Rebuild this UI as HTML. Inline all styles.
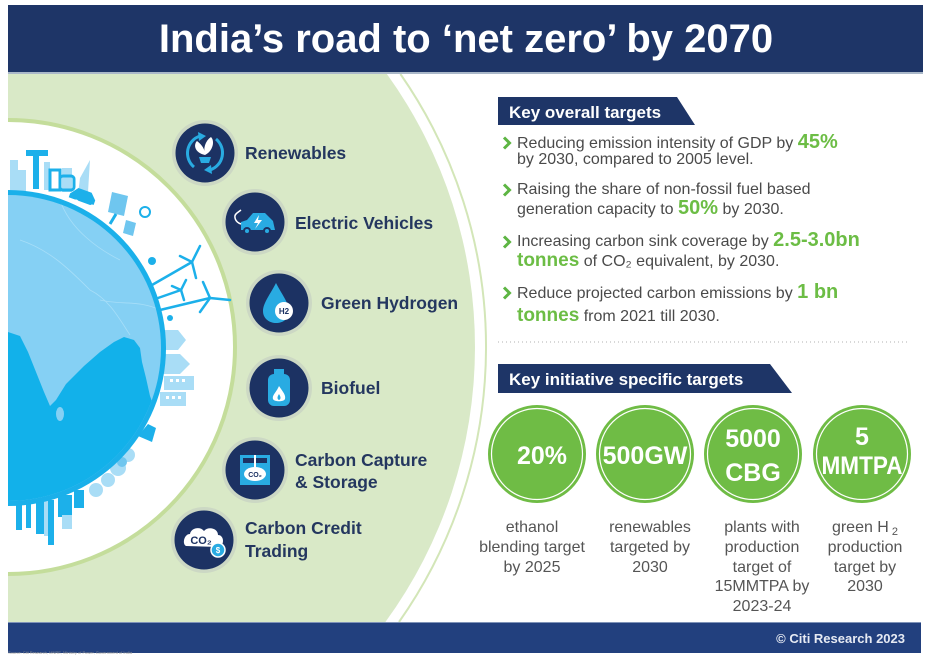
<!DOCTYPE html>
<html><head><meta charset="utf-8"><style>
html,body{margin:0;padding:0;background:#fff;width:929px;height:657px;overflow:hidden;}
svg{display:block;}
text{font-family:"Liberation Sans",sans-serif;}
</style></head><body>
<svg width="929" height="657" viewBox="0 0 929 657" xmlns="http://www.w3.org/2000/svg">
<defs>
<clipPath id="globe"><path d="M8,195 A153,153 0 0 1 8,501 Z"/></clipPath>
</defs>
<rect width="929" height="657" fill="#fff"/>

<!-- background arcs (kept inside frame) -->
<path d="M400.4,74 A478,478 0 0 1 399,622" fill="none" stroke="#d3e6b8" stroke-width="2"/>
<path d="M8,74 L386.9,74 A467,467 0 0 1 385.4,622 L8,622 Z" fill="#d9e9c7"/>
<path d="M8,120 A227,227 0 0 1 8,574 Z" fill="#fff"/>
<path d="M8,120 A227,227 0 0 1 8,574" fill="none" stroke="#c4dd9b" stroke-width="4"/>

<!-- top-left skyline -->
<g fill="#a9ddf6">
  <rect x="10" y="160" width="8" height="32"/>
  <rect x="18" y="170" width="8" height="22"/>
  <rect x="44" y="162" width="6" height="28"/>
  <rect x="62" y="168" width="10" height="24"/>
  <polygon points="80,178 90,160 88,192 78,194"/>
</g>
<g fill="#1cb0ea">
  <rect x="26" y="150" width="22" height="6"/>
  <rect x="33" y="155" width="6" height="34"/>
  <rect x="50" y="170" width="10" height="20" fill="none" stroke="#1cb0ea" stroke-width="3"/>
  <rect x="60" y="176" width="14" height="14" rx="3" fill="none" stroke="#1cb0ea" stroke-width="3"/>
  <path d="M70 198 L76 190 L90 190 L96 196 L96 202 L70 202 Z" transform="rotate(20 83 196)"/>
  <circle cx="76" cy="202" r="2.5" fill="#fff"/>
  <circle cx="92" cy="207" r="2.5" fill="#fff"/>
</g>
<!-- solar panels -->
<g>
  <polygon points="112,192 128,196 124,216 108,212" fill="#6fc6ef"/>
  <line x1="116" y1="214" x2="110" y2="224" stroke="#1cb0ea" stroke-width="3"/>
  <polygon points="126,220 136,223 133,236 123,233" fill="#6fc6ef"/>
  <circle cx="145" cy="212" r="5" fill="none" stroke="#1cb0ea" stroke-width="2"/>
</g>
<!-- wind turbines -->
<g stroke="#1cb0ea" stroke-width="2.5" stroke-linecap="round" fill="none">
  <line x1="152" y1="285" x2="192" y2="262"/>
  <line x1="192" y1="262" x2="200" y2="246"/>
  <line x1="192" y1="262" x2="180" y2="256"/>
  <line x1="192" y1="262" x2="196" y2="278"/>
  <line x1="158" y1="298" x2="181" y2="290"/>
  <line x1="181" y1="290" x2="186" y2="280"/>
  <line x1="181" y1="290" x2="172" y2="286"/>
  <line x1="181" y1="290" x2="184" y2="300"/>
  <line x1="160" y1="310" x2="210" y2="298"/>
  <line x1="210" y1="298" x2="203" y2="282"/>
  <line x1="210" y1="298" x2="230" y2="300"/>
  <line x1="210" y1="298" x2="200" y2="312"/>
</g>
<circle cx="152" cy="261" r="4" fill="#1cb0ea"/>
<circle cx="170" cy="318" r="3" fill="#1cb0ea"/>
<!-- right buildings -->
<g fill="#a9ddf6">
  <polygon points="162,330 178,330 186,340 178,350 162,350"/>
  <polygon points="162,354 180,354 190,364 180,374 162,374"/>
  <rect x="164" y="376" width="30" height="14"/>
  <rect x="160" y="392" width="26" height="14"/>
</g>
<g fill="#fff">
  <rect x="170" y="379" width="3" height="3"/><rect x="176" y="379" width="3" height="3"/><rect x="182" y="379" width="3" height="3"/>
  <rect x="166" y="396" width="3" height="3"/><rect x="172" y="396" width="3" height="3"/><rect x="178" y="396" width="3" height="3"/>
</g>
<path d="M138 436 L148 424 L156 428 L152 442 Z" fill="#1cb0ea"/>
<!-- trees -->
<g fill="#a9ddf6">
  <circle cx="128" cy="455" r="7"/><circle cx="118" cy="468" r="8"/><circle cx="108" cy="480" r="7"/>
  <circle cx="96" cy="490" r="7"/><circle cx="122" cy="462" r="5" fill="#6fc6ef"/>
</g>
<!-- bottom skyline -->
<g fill="#1cb0ea">
  <rect x="16" y="500" width="6" height="30"/>
  <rect x="26" y="500" width="5" height="28"/>
  <rect x="36" y="500" width="8" height="34"/>
  <rect x="48" y="500" width="6" height="45"/>
  <rect x="58" y="495" width="14" height="22"/>
  <rect x="74" y="490" width="10" height="18"/>
</g>
<g fill="#a9ddf6">
  <rect x="44" y="500" width="4" height="36"/>
  <rect x="62" y="515" width="10" height="14"/>
</g>

<!-- globe -->
<path d="M8,190 A158,158 0 0 1 8,506 Z" fill="#1ab0ea"/>
<g clip-path="url(#globe)">
  <rect x="8" y="190" width="162" height="316" fill="#85d0f4"/>
  <path d="M8,332 L20,336 L28,352 L36,372 L44,392 L50,406 L56,400 L66,384 L84,366 L100,352 L114,342 L124,337 L134,340 L140,348 L142,362 L146,378 L150,396 L158,418 L162,440 L170,470 L170,506 L8,506 Z" fill="#12b1ea"/>
  <ellipse cx="60" cy="414" rx="4" ry="7" fill="#85d0f4"/>
  <g stroke="#a7def8" stroke-width="0.8" fill="none">
    <path d="M20,240 C50,250 70,270 90,290 C110,300 120,320 130,335"/>
    <path d="M60,200 C70,230 100,250 120,260"/>
    <path d="M100,300 C120,305 140,300 160,310"/>
  </g>
</g>

<!-- header -->
<rect x="8" y="5" width="915" height="67" fill="#1e3567"/>
<rect x="8" y="72" width="915" height="2" fill="#aab8c9"/>
<text x="466" y="52" text-anchor="middle" font-size="40" font-weight="bold" fill="#fff">India’s road to ‘net zero’ by 2070</text>

<!-- left icons -->
<g>
  <g transform="translate(205,153)">
    <circle r="33" fill="#ccd8c4"/><circle r="29.5" fill="#1c3263"/>
    <path d="M-5,-17 A18,18 0 0 0 -11,14" stroke="#29abe2" stroke-width="3" fill="none"/>
    <path d="M5,17 A18,18 0 0 0 11,-14" stroke="#29abe2" stroke-width="3" fill="none"/>
    <polygon points="-7,-21 1,-17 -6,-12" fill="#29abe2"/>
    <polygon points="7,21 -1,17 6,12" fill="#29abe2"/>
    <path d="M0,2 C-10,0 -12,-8 -8,-12 C-3,-8 0,-4 0,2 Z" fill="#fff"/>
    <path d="M0,2 C8,-2 10,-12 6,-16 C0,-12 -2,-4 0,2 Z" fill="#fff"/>
    <path d="M-6,4 L6,4 L4,10 L-4,10 Z" fill="#29abe2"/>
  </g>
  <g transform="translate(255,222)">
    <circle r="33" fill="#ccd8c4"/><circle r="29.5" fill="#1c3263"/>
    <path d="M-14,8 L-14,0 L-8,-2 L-2,-9 L10,-9 L18,-1 L20,8 Z" fill="#29abe2"/>
    <circle cx="-8" cy="9" r="4" fill="#1c3263"/><circle cx="-8" cy="9" r="2" fill="#29abe2"/>
    <circle cx="12" cy="9" r="4" fill="#1c3263"/><circle cx="12" cy="9" r="2" fill="#29abe2"/>
    <polygon points="4,-7 -1,1 3,1 0,7 7,-2 3,-2" fill="#fff"/>
    <path d="M-14,2 C-20,0 -22,-6 -18,-9 L-14,-12" stroke="#fff" stroke-width="1.5" fill="none"/>
  </g>
  <g transform="translate(279,303)">
    <circle r="33" fill="#ccd8c4"/><circle r="29.5" fill="#1c3263"/>
    <path d="M-3,-20 C-8,-10 -16,0 -16,8 C-16,16 -9,20 -3,20 C4,20 10,16 10,8 C10,0 2,-10 -3,-20 Z" fill="#29abe2"/>
    <circle cx="5" cy="8" r="9" fill="#fff"/>
    <text x="5" y="11" text-anchor="middle" font-size="8" font-weight="bold" fill="#1c3263">H2</text>
  </g>
  <g transform="translate(279,388)">
    <circle r="33" fill="#ccd8c4"/><circle r="29.5" fill="#1c3263"/>
    <rect x="-5" y="-19" width="10" height="5" fill="#29abe2"/>
    <rect x="-11" y="-14" width="22" height="32" rx="6" fill="#29abe2"/>
    <path d="M0,-2 C4,4 7,7 6,11 C5,14 -5,14 -6,11 C-7,7 -3,5 0,-2 Z" fill="#fff"/>
    <path d="M0,6 C2,9 2,11 0,12 C-2,11 -2,9 0,6 Z" fill="#29abe2"/>
  </g>
  <g transform="translate(255,470)">
    <circle r="33" fill="#ccd8c4"/><circle r="29.5" fill="#1c3263"/>
    <rect x="-15" y="-15" width="30" height="30" fill="#29abe2"/>
    <rect x="-12" y="-12" width="24" height="5" fill="#1c3263"/>
    <rect x="-1" y="-15" width="2" height="12" fill="#fff"/>
    <ellipse cx="0" cy="4" rx="11" ry="7" fill="#fff"/>
    <text x="0" y="7" text-anchor="middle" font-size="7" font-weight="bold" fill="#1c3263">CO₂</text>
  </g>
  <g transform="translate(204,540)">
    <circle r="33" fill="#ccd8c4"/><circle r="29.5" fill="#1c3263"/>
    <path d="M-18,6 C-22,4 -20,-6 -14,-6 C-13,-12 -4,-14 0,-9 C4,-14 14,-12 14,-5 C20,-5 21,5 15,7 Z" fill="#fff"/>
    <text x="-3" y="4" text-anchor="middle" font-size="11" font-weight="bold" fill="#1c3263">CO₂</text>
    <circle cx="14" cy="10" r="7" fill="#29abe2" stroke="#fff" stroke-width="1.5"/>
    <text x="14" y="13" text-anchor="middle" font-size="8" font-weight="bold" fill="#fff">$</text>
  </g>
</g>

<g font-size="17.5" font-weight="bold" fill="#24375f">
  <text x="245" y="159">Renewables</text>
  <text x="295" y="229">Electric Vehicles</text>
  <text x="321" y="309">Green Hydrogen</text>
  <text x="321" y="394">Biofuel</text>
  <text x="295" y="466">Carbon Capture</text>
  <text x="295" y="488">&amp; Storage</text>
  <text x="245" y="534">Carbon Credit</text>
  <text x="245" y="557">Trading</text>
</g>

<!-- right panel -->
<polygon points="498,97 677,97 695,125 498,125" fill="#1e3567"/>
<text x="509" y="118" font-size="17" font-weight="bold" fill="#fff">Key overall targets</text>

<g stroke="#5db543" stroke-width="3" fill="none" stroke-linejoin="miter">
  <polyline points="504,137.5 509.5,143 504,148.5"/>
  <polyline points="504,184.5 509.5,190 504,195.5"/>
  <polyline points="504,236.5 509.5,242 504,247.5"/>
  <polyline points="504,287.5 509.5,293 504,298.5"/>
</g>

<g font-size="16" fill="#4a4a4a">
  <text x="517" y="148">Reducing emission intensity of GDP by <tspan font-size="20" font-weight="bold" fill="#6cbd45">45%</tspan></text>
  <text x="517" y="164">by 2030, compared to 2005 level.</text>
  <text x="517" y="194">Raising the share of non-fossil fuel based</text>
  <text x="517" y="214">generation capacity to <tspan font-size="20" font-weight="bold" fill="#6cbd45">50%</tspan> by 2030.</text>
  <text x="517" y="246">Increasing carbon sink coverage by <tspan font-size="20" font-weight="bold" fill="#6cbd45">2.5-3.0bn</tspan></text>
  <text x="517" y="266"><tspan font-size="19" font-weight="bold" fill="#6cbd45">tonnes</tspan> of CO₂ equivalent, by 2030.</text>
  <text x="517" y="298">Reduce projected carbon emissions by <tspan font-size="20" font-weight="bold" fill="#6cbd45">1 bn</tspan></text>
  <text x="517" y="321"><tspan font-size="19" font-weight="bold" fill="#6cbd45">tonnes</tspan> from 2021 till 2030.</text>
</g>

<line x1="498" y1="342" x2="910" y2="342" stroke="#b0b0b0" stroke-width="1" stroke-dasharray="1,3"/>

<polygon points="498,364 770,364 792,393 498,393" fill="#1e3567"/>
<text x="509" y="385" font-size="17" font-weight="bold" fill="#fff">Key initiative specific targets</text>

<g>
  <circle cx="537" cy="454" r="49" fill="#6fbc45"/><circle cx="537" cy="454" r="45.5" fill="none" stroke="#fff" stroke-width="1.2"/>
  <circle cx="645" cy="454" r="49" fill="#6fbc45"/><circle cx="645" cy="454" r="45.5" fill="none" stroke="#fff" stroke-width="1.2"/>
  <circle cx="753" cy="454" r="49" fill="#6fbc45"/><circle cx="753" cy="454" r="45.5" fill="none" stroke="#fff" stroke-width="1.2"/>
  <circle cx="862" cy="454" r="49" fill="#6fbc45"/><circle cx="862" cy="454" r="45.5" fill="none" stroke="#fff" stroke-width="1.2"/>
</g>
<g font-size="25" font-weight="bold" fill="#fff" text-anchor="middle">
  <text x="542" y="464">20%</text>
  <text x="645" y="464">500GW</text>
  <text x="753" y="447">5000</text>
  <text x="753" y="481">CBG</text>
  <text x="862" y="445">5</text>
  <text x="862" y="474" textLength="81" lengthAdjust="spacingAndGlyphs">MMTPA</text>
</g>

<g font-size="16" fill="#555" text-anchor="middle">
  <text x="532" y="532">ethanol</text>
  <text x="532" y="552">blending target</text>
  <text x="532" y="572">by 2025</text>
  <text x="650" y="532">renewables</text>
  <text x="650" y="552">targeted by</text>
  <text x="650" y="572">2030</text>
  <text x="762" y="532">plants with</text>
  <text x="762" y="552">production</text>
  <text x="762" y="572">target of</text>
  <text x="762" y="591">15MMTPA by</text>
  <text x="762" y="611">2023-24</text>
  <text x="865" y="532">green H<tspan font-size="11" dy="3"> 2</tspan></text>
  <text x="865" y="552">production</text>
  <text x="865" y="572">target by</text>
  <text x="865" y="591">2030</text>
</g>

<!-- footer -->
<rect x="8" y="622" width="913" height="31" fill="#22407e"/>
<rect x="8" y="622" width="913" height="1" fill="#7f93b8"/>
<text x="905" y="643" text-anchor="end" font-size="13" font-weight="bold" fill="#e6eaf3">© Citi Research 2023</text>
<text x="8" y="654" font-size="4" fill="#999">Source: Citi Research, MNRE, Ministry of Power, Government of India</text>
</svg>
</body></html>
